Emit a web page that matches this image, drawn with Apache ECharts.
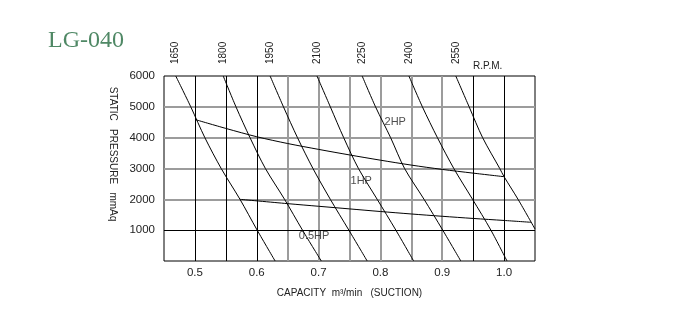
<!DOCTYPE html>
<html><head><meta charset="utf-8">
<script src="https://cdn.jsdelivr.net/npm/echarts@6/dist/echarts.min.js"></script>
<style>html,body{margin:0;padding:0;background:#fff}#c{width:700px;height:324px}</style>
</head><body><div id="c"></div>
<script>
// ---- data ----
const rpmLabels = ['1650', '1800', '1950', '2100', '2250', '2400', '2550'];
const rpm1650 = [[0.4690,6000],[0.4933,5000],[0.5161,4000],[0.5425,3000],[0.5729,2000],[0.6007,1000],[0.6297,0]];
const rpm1800 = [[0.5458,6000],[0.5664,5000],[0.5891,4000],[0.6140,3000],[0.6450,2000],[0.6740,1000],[0.7044,0]];
const rpm1950 = [[0.6216,6000],[0.6432,5000],[0.6659,4000],[0.6909,3000],[0.7190,2000],[0.7490,1000],[0.7786,0]];
const rpm2100 = [[0.6974,6000],[0.7190,5000],[0.7406,4000],[0.7645,3000],[0.7948,2000],[0.8250,1000],[0.8537,0]];
const rpm2250 = [[0.7705,6000],[0.7921,5000],[0.8165,4000],[0.8391,3000],[0.8706,2000],[0.9008,1000],[0.9300,0]];
const rpm2400 = [[0.8461,6000],[0.8679,5000],[0.8922,4000],[0.9187,3000],[0.9490,2000],[0.9787,1000],[1.0047,0]];
const rpm2550 = [[0.9219,6000],[0.9435,5000],[0.9653,4000],[0.9930,3000],[1.0000,2734],[1.0226,2000],[1.0500,1038]];
const hp2Line = [[0.5020,4578],[0.55,4300],[0.6,4030],[0.65,3810],[0.7,3620],[0.75,3440],[0.8,3270],[0.85,3110],[0.9,2970],[0.95,2850],[1.0,2734]];
const hp1Line = [[0.5729,2000],[0.65,1860],[0.7,1775],[0.75,1690],[0.8,1605],[0.85,1525],[0.9,1450],[0.95,1380],[1.0,1315],[1.0438,1255]];
const hpLabels = [[0.824,4518,'2HP'],[0.769,2594,'1HP'],[0.6927,817,'0.5HP']];
const xTickLabels = [0.5, 0.6, 0.7, 0.8, 0.9, 1.0];
const yTickLabels = [1000, 2000, 3000, 4000, 5000, 6000];
const xGridBlack = [0.5, 0.55, 0.6, 0.95, 1.0];
const xGridGray = [0.65, 0.7, 0.75, 0.8, 0.85, 0.9];
const yGridGray = [2000, 3000, 4000, 5000];
const yGridBlack = [1000];

const rpmCurves = [rpm1650, rpm1800, rpm1950, rpm2100, rpm2250, rpm2400, rpm2550];
const rpmTopX = rpmCurves.map(c => c[0][0]);

const FONT = 'Liberation Sans';
const chart = echarts.init(document.getElementById('c'), null, {renderer: 'canvas'});

const grayStyle = {color: '#9c9c9c', width: 2, type: 'solid'};
const blackStyle = {color: '#000', width: 1, type: 'solid'};
const gridMarks = []
  .concat(xGridGray.map(v => ({xAxis: v, lineStyle: grayStyle})))
  .concat(yGridGray.map(v => ({yAxis: v, lineStyle: grayStyle})))
  .concat(xGridBlack.map(v => ({xAxis: v, lineStyle: blackStyle})))
  .concat(yGridBlack.map(v => ({yAxis: v, lineStyle: blackStyle})));

const lineSeries = (data) => ({
  type: 'line', data: data, showSymbol: false, symbol: 'none', smooth: 0.3,
  lineStyle: {color: '#000', width: 1}, z: 5, silent: true, clip: true
});

chart.setOption({
  animation: false,
  backgroundColor: '#fff',
  title: [
    {text: 'LG-040', left: 43, top: 24, textStyle: {fontFamily: 'Liberation Serif', fontSize: 24, fontWeight: 'normal', color: '#4f8865'}},
    {text: 'R.P.M.', left: 468, top: 56, textStyle: {fontFamily: FONT, fontSize: 10, fontWeight: 'normal', color: '#222'}}
  ],
  grid: {left: 164, right: 165, top: 76, bottom: 63, show: true, borderColor: '#000', borderWidth: 1, backgroundColor: 'transparent'},
  xAxis: [
    {
      type: 'value', min: 0.45, max: 1.05, interval: 0.05, position: 'bottom',
      axisLine: {show: false}, axisTick: {show: false}, splitLine: {show: false},
      axisLabel: {customValues: xTickLabels, formatter: v => v.toFixed(1), fontFamily: FONT, fontSize: 11.5, color: '#222', margin: 6},
      name: 'CAPACITY  m³/min   (SUCTION)', nameLocation: 'middle', nameGap: 27,
      nameTextStyle: {fontFamily: FONT, fontSize: 10, color: '#222'}
    },
    {
      type: 'value', min: 0.45, max: 1.05, position: 'top',
      axisLine: {show: false}, axisTick: {show: false}, splitLine: {show: false},
      axisLabel: {
        customValues: rpmTopX, rotate: -90, margin: 12, fontFamily: FONT, fontSize: 10, color: '#222',
        formatter: v => {
          let best = 0;
          rpmTopX.forEach((x, i) => { if (Math.abs(x - v) < Math.abs(rpmTopX[best] - v)) best = i; });
          return rpmLabels[best];
        }
      }
    }
  ],
  yAxis: {
    type: 'value', min: 0, max: 6000, interval: 1000,
    axisLine: {show: false}, axisTick: {show: false}, splitLine: {show: false},
    axisLabel: {customValues: yTickLabels, formatter: v => String(v), fontFamily: FONT, fontSize: 11.5, color: '#222', margin: 9},
    name: 'STATIC   PRESSURE   mmAq', nameLocation: 'middle', nameRotate: -90, nameGap: 46,
    nameTextStyle: {fontFamily: FONT, fontSize: 10, color: '#222', padding: [0, 29, 0, 0]}
  },
  series: [
    {
      type: 'line', data: [], z: 1, silent: true,
      markLine: {silent: true, symbol: ['none', 'none'], label: {show: false}, animation: false, data: gridMarks}
    },
    ...rpmCurves.map(lineSeries),
    lineSeries(hp2Line),
    lineSeries(hp1Line),
    {
      type: 'scatter', data: hpLabels, symbolSize: 0, z: 6, silent: true,
      label: {show: true, position: 'inside', formatter: p => p.data[2], fontFamily: FONT, fontSize: 11, color: '#222'}
    }
  ]
});
</script>
</body></html>
